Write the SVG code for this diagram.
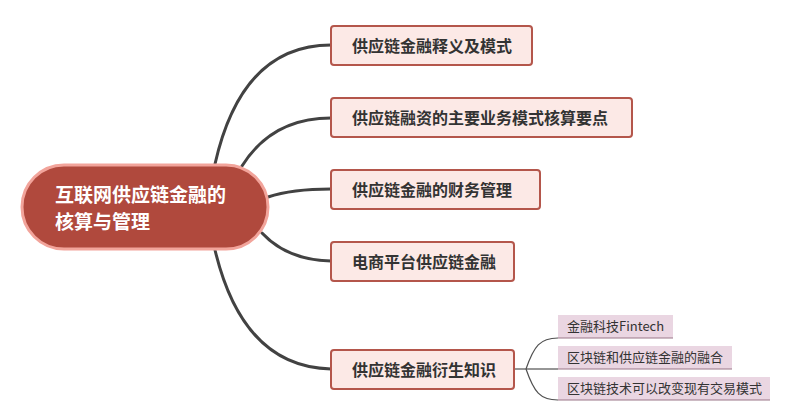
<svg xmlns="http://www.w3.org/2000/svg" width="789" height="418" viewBox="0 0 789 418">
<style>
.bg{fill:#ffffff}
.main-link{fill:none;stroke:#424242;stroke-width:3;stroke-linecap:round}
.sub-link{fill:none;stroke:#505050;stroke-width:1.2}
.root-box{fill:#B0493D;stroke:#F2A49B;stroke-width:3}
.root-text{font-family:"Noto Sans CJK SC","Noto Sans",sans-serif;font-size:19px;font-weight:bold;fill:#ffffff}
.main-box{fill:#FCE9E6;stroke:#B4564B;stroke-width:2}
.main-text{font-family:"Noto Sans CJK SC","Noto Sans",sans-serif;font-size:16px;font-weight:bold;fill:#333333}
.sub-box{fill:#EAD6E2}
.sub-line{stroke:#9A7688;stroke-width:1.2}
.sub-text{font-family:"Noto Sans CJK SC","Noto Sans",sans-serif;font-size:13px;fill:#333333}
</style>
<rect class="bg" x="0" y="0" width="789" height="418"/>
<g id="connectors">
<path class="main-link" d="M215 164 Q242 45 331 45"/>
<path class="main-link" d="M242 166 Q272 118 331 118"/>
<path class="main-link" d="M268 197 Q292 189 331 189"/>
<path class="main-link" d="M262 233 Q287 260 331 261"/>
<path class="main-link" d="M215 250 Q243 367 331 369"/>
<path class="sub-link" d="M514 369 L526 369"/>
<path class="sub-link" d="M526 369 C534 346 540 338 558 338"/>
<path class="sub-link" d="M526 369 L558 369"/>
<path class="sub-link" d="M526 369 C534 392 540 400 558 400"/>
</g>
<g id="root">
<rect class="root-box" x="22" y="165" width="246" height="84" rx="42" ry="42"/>
<text class="root-text" x="55" y="202">互联网供应链金融的</text>
<text class="root-text" x="55" y="229">核算与管理</text>
</g>
<g id="node1">
<rect class="main-box" x="331" y="26" width="201" height="39" rx="3"/>
<text class="main-text" x="352" y="51.5">供应链金融释义及模式</text>
</g>
<g id="node2">
<rect class="main-box" x="331" y="98" width="301" height="39" rx="3"/>
<text class="main-text" x="352" y="123.5">供应链融资的主要业务模式核算要点</text>
</g>
<g id="node3">
<rect class="main-box" x="331" y="170" width="209" height="39" rx="3"/>
<text class="main-text" x="352" y="195.5">供应链金融的财务管理</text>
</g>
<g id="node4">
<rect class="main-box" x="331" y="242" width="183" height="39" rx="3"/>
<text class="main-text" x="352" y="267.5">电商平台供应链金融</text>
</g>
<g id="node5">
<rect class="main-box" x="331" y="350" width="183" height="39" rx="3"/>
<text class="main-text" x="352" y="375.5">供应链金融衍生知识</text>
</g>
<g id="sub1">
<rect class="sub-box" x="558" y="315" width="115" height="23"/>
<line class="sub-line" x1="558" y1="338" x2="673" y2="338"/>
<text class="sub-text" x="567" y="331">金融科技Fintech</text>
</g>
<g id="sub2">
<rect class="sub-box" x="558" y="346" width="174" height="23"/>
<line class="sub-line" x1="558" y1="369" x2="732" y2="369"/>
<text class="sub-text" x="567" y="362">区块链和供应链金融的融合</text>
</g>
<g id="sub3">
<rect class="sub-box" x="558" y="377" width="212" height="23"/>
<line class="sub-line" x1="558" y1="400" x2="770" y2="400"/>
<text class="sub-text" x="567" y="393">区块链技术可以改变现有交易模式</text>
</g>
</svg>
